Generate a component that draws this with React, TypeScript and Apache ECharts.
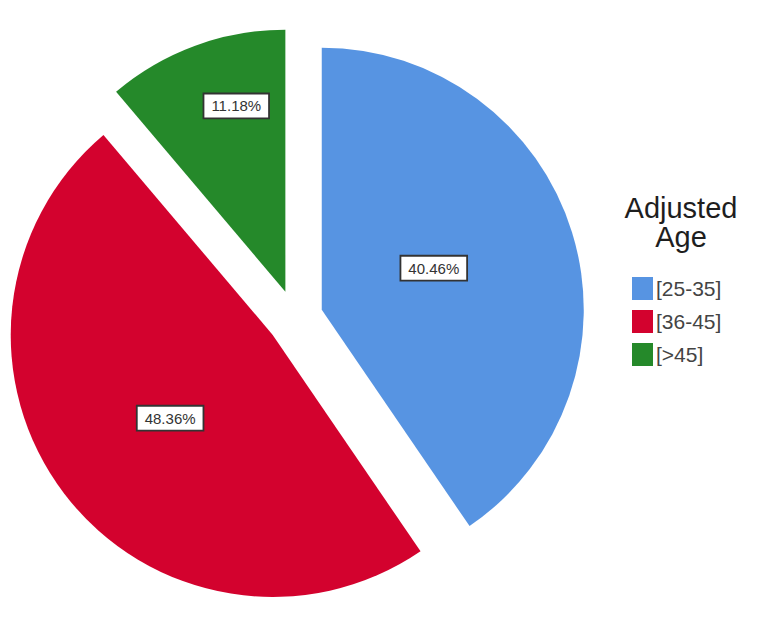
import React, { useEffect, useRef } from "react";
import * as echarts from "echarts";

const categories = ["[25-35]", "[36-45]", "[>45]"];
const percents = [40.46, 48.36, 11.18];
const colors = ["#5794E2", "#D3022E", "#25892A"];
const legendTitle = "Adjusted\nAge";

export default function App() {
  const ref = useRef<HTMLDivElement>(null);
  useEffect(() => {
    if (!ref.current) return;
    const chart = echarts.init(ref.current, undefined, { renderer: "svg" });
    const data = categories.map((name, i) => ({
      name,
      value: percents[i],
      selected: true,
      itemStyle: { color: colors[i] },
    }));
    const labelShift: Record<number, { dx: number; dy: number }> = {
      0: { dx: -16, dy: -2 },
      1: { dx: 4, dy: 2 },
      2: { dx: -3, dy: -60 },
    };
    chart.setOption({
      animation: false,
      backgroundColor: "#ffffff",
      title: {
        text: legendTitle,
        left: 681,
        top: 193,
        padding: 0,
        textAlign: "center",
        textStyle: {
          fontFamily: "Liberation Sans",
          fontSize: 29,
          fontWeight: "normal",
          color: "#1e1e1e",
          lineHeight: 29,
        },
      },
      legend: {
        orient: "vertical",
        left: 632,
        top: 277,
        padding: 0,
        itemWidth: 21,
        itemHeight: 23,
        itemGap: 10,
        icon: "rect",
        selectedMode: false,
        data: categories,
        textStyle: {
          fontFamily: "Liberation Sans",
          fontSize: 21,
          color: "#444",
          padding: [0, 0, 0, -2],
        },
      },
      series: [
        {
          type: "pie",
          center: [295, 318],
          radius: 262,
          startAngle: 90,
          clockwise: true,
          selectedMode: "multiple",
          selectedOffset: 28,
          avoidLabelOverlap: false,
          emphasis: { disabled: true },
          label: {
            show: true,
            position: "inside",
            formatter: (p: any) => p.value.toFixed(2) + "%",
            backgroundColor: "#ffffff",
            borderColor: "#333",
            borderWidth: 1.8,
            padding: [4, 7],
            color: "#333",
            fontSize: 15,
            fontFamily: "Liberation Sans",
          },
          labelLine: { show: false },
          labelLayout: (params: any) => labelShift[params.dataIndex] || {},
          data,
        },
      ],
    });
    return () => chart.dispose();
  }, []);
  return (
    <div
      ref={ref}
      style={{ position: "fixed", left: 0, top: 0, width: 768, height: 627 }}
    />
  );
}
